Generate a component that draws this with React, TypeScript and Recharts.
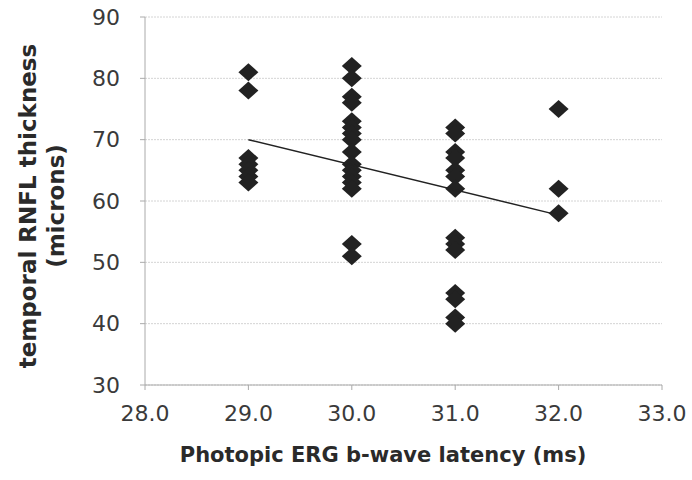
import { ScatterChart, Scatter, XAxis, YAxis, CartesianGrid } from 'recharts';

// latência (ms) por grupo e espessura RNFL
const latency29 = [81, 78, 67, 66, 65, 64, 63];
const latency30 = [82, 80, 77, 76, 73, 72, 71, 70, 68, 66, 65, 64, 63, 62, 53, 51];
const latency31 = [72, 71, 68, 67, 65, 64, 62, 54, 53, 52, 45, 44, 41, 40];
const latency32 = [75, 62, 58];

const trendX = [29, 32];
const trendY = [70, 57.7];

const xTicks = [28, 29, 30, 31, 32, 33];
const yTicks = [30, 40, 50, 60, 70, 80, 90];

const groups: [number, number[]][] = [
  [29, latency29],
  [30, latency30],
  [31, latency31],
  [32, latency32],
];

const points = groups.flatMap(([x, ys]) => ys.map((y) => ({ x, y })));
const trend = trendX.map((x, i) => ({ x, y: trendY[i] }));

const FONT = '"DejaVu Sans", sans-serif';

const Diamond = (props: any) => {
  const { cx, cy } = props;
  if (cx == null || cy == null) return null;
  const w = 10;
  const h = 9;
  return (
    <polygon
      points={`${cx},${cy - h} ${cx + w},${cy} ${cx},${cy + h} ${cx - w},${cy}`}
      fill="#222"
    />
  );
};

export default function App() {
  return (
    <div style={{ position: 'absolute', left: 0, top: 0, background: '#fff' }}>
      <ScatterChart width={692} height={480} margin={{ top: 17, right: 30, left: 0, bottom: 0 }}>
        <CartesianGrid vertical={false} stroke="#d4d4d4" strokeDasharray="2 1" />
        <XAxis
          type="number"
          dataKey="x"
          domain={[28, 33]}
          ticks={xTicks}
          tickFormatter={(v) => v.toFixed(1)}
          height={95}
          stroke="#aaa"
          tickSize={5}
          tickMargin={15}
          tick={{ fill: '#3a3a3a', fontSize: 22, fontFamily: FONT }}
          label={(p: any) => (
            <text
              x={383}
              y={p.viewBox.y + 77}
              fontFamily={FONT}
              fontWeight="bold"
              fontSize={21}
              fill="#2a2a2a"
              textAnchor="middle"
            >
              Photopic ERG b-wave latency (ms)
            </text>
          )}
        />
        <YAxis
          type="number"
          dataKey="y"
          domain={[30, 90]}
          ticks={yTicks}
          width={145}
          stroke="#aaa"
          tickSize={5}
          tickMargin={20}
          tick={{ fill: '#3a3a3a', fontSize: 22, fontFamily: FONT }}
          label={(p: any) => {
            const cy = p.viewBox.y + p.viewBox.height / 2;
            return (
              <text
                fontFamily={FONT}
                fontWeight="bold"
                fontSize={23}
                fill="#2a2a2a"
                textAnchor="middle"
                transform={`rotate(-90, 0, ${cy})`}
              >
                <tspan x={-5} y={cy + 36}>temporal RNFL thickness</tspan>
                <tspan x={-5} y={cy + 64}>(microns)</tspan>
              </text>
            );
          }}
        />
        <Scatter data={points} shape={<Diamond />} isAnimationActive={false} />
        <Scatter
          data={trend}
          line={{ stroke: '#222', strokeWidth: 1.5 }}
          shape={() => null}
          isAnimationActive={false}
        />
      </ScatterChart>
    </div>
  );
}
